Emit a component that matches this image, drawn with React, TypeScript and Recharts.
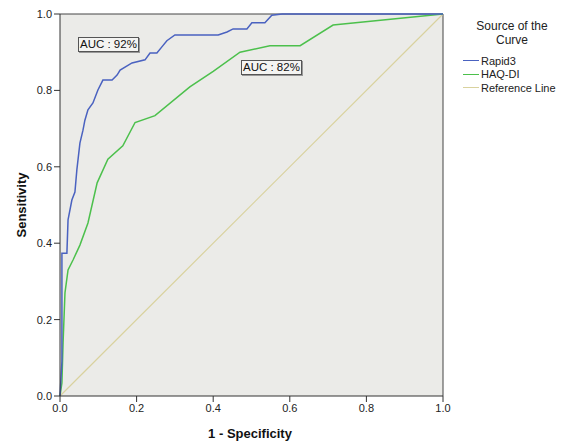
import React from 'react';
import {
  LineChart,
  Line,
  XAxis,
  YAxis,
  CartesianGrid,
  ReferenceLine,
} from "recharts";

// ROC points
const rapidX = [0, 0.005, 0.005, 0.018, 0.021, 0.031, 0.039, 0.044, 0.052, 0.06, 0.065, 0.073, 0.086, 0.099, 0.112, 0.136, 0.149, 0.157, 0.188, 0.222, 0.235, 0.253, 0.266, 0.279, 0.3, 0.413, 0.436, 0.452, 0.488, 0.501, 0.535, 0.553, 0.58, 1];
const rapidY = [0, 0.09, 0.374, 0.374, 0.461, 0.513, 0.534, 0.592, 0.662, 0.696, 0.722, 0.749, 0.767, 0.801, 0.827, 0.827, 0.84, 0.853, 0.872, 0.88, 0.898, 0.898, 0.914, 0.93, 0.945, 0.945, 0.953, 0.961, 0.961, 0.977, 0.977, 0.997, 1, 1];

const haqX = [0, 0.005, 0.008, 0.013, 0.021, 0.034, 0.052, 0.073, 0.097, 0.125, 0.164, 0.196, 0.248, 0.339, 0.4, 0.47, 0.548, 0.627, 0.713, 1];
const haqY = [0, 0.034, 0.139, 0.27, 0.33, 0.356, 0.395, 0.453, 0.558, 0.62, 0.655, 0.716, 0.734, 0.809, 0.85, 0.9, 0.917, 0.917, 0.971, 1];

const refX = [0, 1];
const refY = [0, 1];

const ticks = [0, 0.2, 0.4, 0.6, 0.8, 1.0];

const series = [
  { name: "Rapid3", color: "#4a62c0" },
  { name: "HAQ-DI", color: "#4cc04c" },
  { name: "Reference Line", color: "#d9d29e" },
];

const toPoints = (xs: number[], ys: number[]) => xs.map((x, i) => ({ x, y: ys[i] }));

const rapidData = toPoints(rapidX, rapidY);
const haqData = toPoints(haqX, haqY);
const refData = toPoints(refX, refY);

const font = '"Liberation Sans", Arial, sans-serif';

const aucBox: React.CSSProperties = {
  position: 'absolute',
  fontFamily: font,
  fontSize: 11.5,
  lineHeight: '13px',
  color: '#111',
  background: '#f4f4f2',
  border: '1px solid #555',
  boxShadow: '1px 1px 0 #999',
  padding: '0 1px',
  whiteSpace: 'nowrap',
};

export default function App() {
  return (
    <div style={{ position: 'absolute', left: 0, top: 0, width: 570, height: 441, background: '#fff', fontFamily: font }}>
      <LineChart width={570} height={441} margin={{ top: 14, right: 127, bottom: 0, left: 0 }}>
        <CartesianGrid horizontal={false} vertical={false} fill="#ebebe8" />
        <XAxis
          dataKey="x"
          type="number"
          domain={[0, 1]}
          ticks={ticks}
          tickFormatter={(v: number) => v.toFixed(1)}
          height={45}
          stroke="#333"
          tickSize={6}
          tick={{ fontSize: 11, fill: '#222', fontFamily: font }}
        />
        <YAxis
          dataKey="y"
          type="number"
          domain={[0, 1]}
          ticks={ticks}
          tickFormatter={(v: number) => v.toFixed(1)}
          width={60}
          stroke="#333"
          tickSize={6}
          tick={{ fontSize: 11, fill: '#222', fontFamily: font }}
        />
        <ReferenceLine y={1} stroke="#444" />
        <ReferenceLine x={1} stroke="#444" />
        <Line data={refData} dataKey="y" name={series[2].name} stroke={series[2].color} strokeWidth={1.2} dot={false} isAnimationActive={false} />
        <Line data={haqData} dataKey="y" name={series[1].name} stroke={series[1].color} strokeWidth={1.5} dot={false} isAnimationActive={false} />
        <Line data={rapidData} dataKey="y" name={series[0].name} stroke={series[0].color} strokeWidth={1.5} dot={false} isAnimationActive={false} />
      </LineChart>

      <div style={{ ...aucBox, left: 78, top: 37 }}>AUC : 92%</div>
      <div style={{ ...aucBox, left: 241, top: 60 }}>AUC : 82%</div>

      <div style={{
        position: 'absolute', left: 7, top: 205, transform: 'translate(-50%, -50%) rotate(-90deg)',
        transformOrigin: 'center', fontWeight: 'bold', fontSize: 13, color: '#111', whiteSpace: 'nowrap', marginLeft: 14,
      }}>Sensitivity</div>
      <div style={{
        position: 'absolute', left: 250, top: 433, transform: 'translate(-50%, -50%)',
        fontWeight: 'bold', fontSize: 13, color: '#111', whiteSpace: 'nowrap',
      }}>1 - Specificity</div>

      <div style={{ position: 'absolute', left: 460, top: 19, width: 104, textAlign: 'center', fontSize: 12, lineHeight: '14px', color: '#222' }}>
        Source of the<br />Curve
      </div>
      {series.map((s, i) => (
        <div key={s.name} style={{ position: 'absolute', left: 463, top: 54 + i * 13.5, height: 13, display: 'flex', alignItems: 'center', fontSize: 11, color: '#222', whiteSpace: 'nowrap' }}>
          <span style={{ display: 'inline-block', width: 16, height: 0, borderTop: `1.5px solid ${s.color}`, marginRight: 2 }} />
          {s.name}
        </div>
      ))}
    </div>
  );
}
